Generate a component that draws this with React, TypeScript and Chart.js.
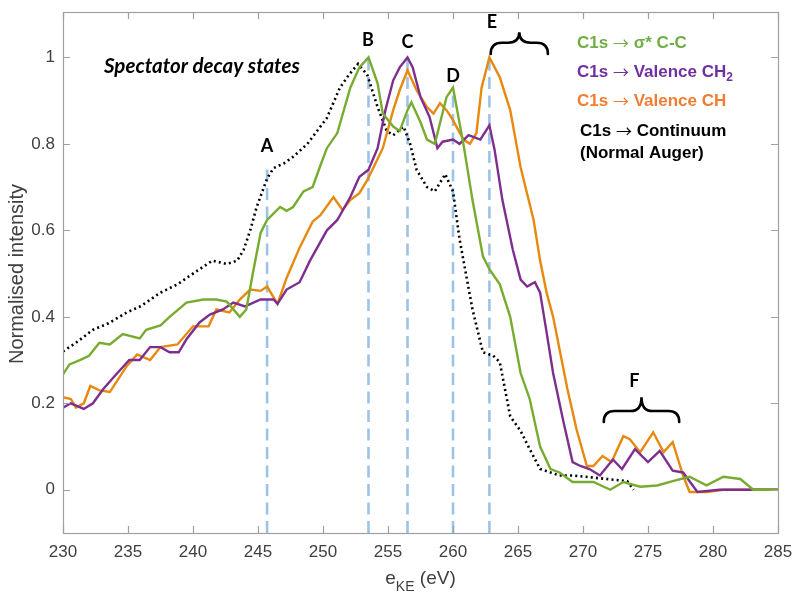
import React, { useEffect, useRef } from "react";
import { Chart, registerables } from "chart.js";

Chart.register(...registerables);

// ---------- data ----------
const continuumX = [230, 231, 232.3, 233.5, 234.9, 236, 237.5, 238.8, 240, 241.5, 242.6, 243.4, 243.9, 244.4, 244.9, 245.7, 246.2, 247, 247.7, 248.8, 249.8, 250.3, 251.3, 252, 252.7, 253.4, 254.2, 254.9, 255.4, 256.2, 256.7, 257.2, 258, 258.6, 259.4, 260, 260.5, 261.5, 262.3, 263.1, 263.6, 264.4, 265.2, 265.9, 266.7, 268.2, 269.2, 271.8, 273.4, 273.9];
const continuumY = [0.32, 0.34, 0.37, 0.385, 0.41, 0.425, 0.456, 0.475, 0.5, 0.53, 0.522, 0.53, 0.555, 0.6, 0.654, 0.72, 0.744, 0.755, 0.77, 0.8, 0.84, 0.86, 0.93, 0.96, 0.985, 0.96, 0.885, 0.83, 0.82, 0.84, 0.8, 0.74, 0.7, 0.69, 0.73, 0.69, 0.58, 0.417, 0.318, 0.31, 0.295, 0.17, 0.136, 0.094, 0.048, 0.033, 0.033, 0.025, 0.02, 0.0];

const sigmaX = [230, 230.5, 231.3, 232, 232.8, 233.6, 234.6, 235.9, 236.4, 237.5, 238.2, 239.5, 240.8, 241.8, 242.6, 243.6, 244.1, 244.6, 245.2, 245.7, 246.7, 247.2, 247.7, 248.5, 249.2, 249.8, 250.3, 251.1, 252.1, 252.8, 253.5, 254.2, 254.6, 255.4, 255.9, 256.5, 256.8, 257.5, 258, 258.6, 259.5, 260, 260.8, 261.5, 262.3, 262.8, 263.6, 264.4, 265.2, 265.9, 266.7, 267.5, 268.2, 269.2, 270.8, 272.1, 273.1, 274.4, 275.7, 276.9, 278.2, 279.5, 280.8, 282.1, 283.1, 285];
const sigmaY = [0.267, 0.29, 0.3, 0.31, 0.34, 0.336, 0.36, 0.35, 0.37, 0.38, 0.4, 0.433, 0.44, 0.44, 0.435, 0.4, 0.417, 0.5, 0.594, 0.624, 0.654, 0.645, 0.654, 0.69, 0.7, 0.75, 0.79, 0.825, 0.93, 0.977, 1.0, 0.94, 0.87, 0.84, 0.83, 0.878, 0.896, 0.85, 0.81, 0.8, 0.908, 0.93, 0.8, 0.67, 0.54, 0.51, 0.475, 0.4, 0.27, 0.21, 0.1, 0.048, 0.04, 0.018, 0.018, 0.0, 0.018, 0.007, 0.01, 0.02, 0.03, 0.01, 0.03, 0.025, 0.0, 0.0];

const ch2X = [230, 230.6, 231.6, 232.3, 233.1, 234.1, 235.1, 235.9, 236.7, 237.5, 238.2, 238.9, 239.5, 240.5, 241.3, 242.3, 243.1, 244, 245.2, 246.2, 246.5, 247.2, 248.2, 249, 250.3, 251.1, 252.1, 252.8, 253.5, 254.2, 254.8, 255.4, 255.9, 256.5, 256.9, 257.5, 258.2, 258.8, 259.2, 260, 260.5, 261.2, 262.1, 262.8, 263.2, 263.8, 264.6, 265.2, 265.7, 266.3, 266.7, 267.2, 267.7, 268.5, 269.2, 269.8, 270.5, 271.3, 272.3, 273, 274, 275, 275.9, 276.9, 277.7, 278.8, 280.5, 285];
const ch2Y = [0.19, 0.2, 0.187, 0.2, 0.233, 0.267, 0.3, 0.3, 0.33, 0.33, 0.318, 0.318, 0.348, 0.387, 0.405, 0.417, 0.433, 0.424, 0.44, 0.44, 0.43, 0.463, 0.48, 0.53, 0.6, 0.624, 0.677, 0.724, 0.74, 0.79, 0.878, 0.947, 0.977, 1.0, 0.977, 0.908, 0.862, 0.79, 0.805, 0.81, 0.8, 0.82, 0.81, 0.843, 0.786, 0.67, 0.555, 0.486, 0.47, 0.48, 0.456, 0.364, 0.27, 0.157, 0.064, 0.055, 0.048, 0.033, 0.07, 0.048, 0.094, 0.064, 0.09, 0.044, 0.04, -0.005, 0.0, 0.0];

const chX = [230, 230.6, 231, 231.6, 232.1, 232.8, 233.6, 234.9, 235.7, 236.7, 237.5, 238.8, 240, 241.2, 241.8, 242.8, 243.6, 244.4, 245.2, 245.7, 246.5, 247.2, 248.2, 249.2, 249.8, 250.8, 251.5, 252.1, 252.8, 253.4, 253.8, 254.6, 255.4, 255.9, 256.5, 257.2, 258, 258.5, 259, 259.5, 260, 260.8, 261.3, 261.8, 262.2, 262.8, 263.6, 264.4, 265.2, 266.2, 266.7, 267.2, 267.7, 268.8, 269.5, 270.3, 270.8, 271.5, 272.2, 273.1, 273.6, 274.4, 275.4, 276.2, 276.9, 277.7, 278.2, 279.5, 280.8, 285];
const chY = [0.214, 0.21, 0.19, 0.2, 0.24, 0.23, 0.226, 0.286, 0.313, 0.3, 0.33, 0.336, 0.378, 0.378, 0.417, 0.41, 0.44, 0.463, 0.46, 0.47, 0.43, 0.49, 0.56, 0.62, 0.635, 0.677, 0.647, 0.67, 0.686, 0.716, 0.74, 0.79, 0.878, 0.924, 0.97, 0.924, 0.885, 0.87, 0.894, 0.878, 0.855, 0.81, 0.8, 0.825, 0.93, 1.0, 0.954, 0.878, 0.746, 0.624, 0.53, 0.456, 0.4, 0.233, 0.14, 0.055, 0.055, 0.078, 0.064, 0.124, 0.117, 0.087, 0.133, 0.087, 0.11, 0.033, -0.005, -0.005, 0.0, 0.0];

const markerLabels = ["A", "B", "C", "D", "E"];
const markerX = [245.7, 253.5, 256.5, 260.0, 262.8];
const markerTop = [0.745, 1.0, 1.0, 0.93, 1.0];

const xTicks = [230, 235, 240, 245, 250, 255, 260, 265, 270, 275, 280, 285];
const yTicks = [0, 0.2, 0.4, 0.6, 0.8, 1];
const yTickLabels = ["0", "0.2", "0.4", "0.6", "0.8", "1"];

const legendHeads = ["C1s", "C1s", "C1s", "C1s"];
const legendTails = ["\u03c3* C-C", "Valence CH", "Valence CH", "Continuum"];
const legendExtra = "(Normal Auger)";

const X_MIN = 230, X_MAX = 285, Y_MIN = -0.1, Y_MAX = 1.105;

const zip = (xs: number[], ys: number[]) => xs.map((x, i) => ({ x, y: ys[i] }));

const BOLD = "bold 17px 'Liberation Sans', Arial, sans-serif";

const decorPlugin = {
  id: "decor",
  afterDatasetsDraw(chart: any) {
    const { ctx, chartArea: a, scales } = chart;
    const xs = scales.x, ys = scales.y;
    ctx.save();
    // box
    ctx.strokeStyle = "#a0a0a0";
    ctx.lineWidth = 1.2;
    ctx.strokeRect(Math.round(a.left) + 0.5, Math.round(a.top) + 0.5, Math.round(a.right - a.left), Math.round(a.bottom - a.top));
    // ticks
    ctx.beginPath();
    xTicks.forEach((t) => {
      const px = Math.round(xs.getPixelForValue(t)) + 0.5;
      ctx.moveTo(px, a.bottom); ctx.lineTo(px, a.bottom - 7);
      ctx.moveTo(px, a.top); ctx.lineTo(px, a.top + 7);
    });
    yTicks.forEach((t) => {
      const py = Math.round(ys.getPixelForValue(t)) + 0.5;
      ctx.moveTo(a.left, py); ctx.lineTo(a.left + 7, py);
      ctx.moveTo(a.right, py); ctx.lineTo(a.right - 7, py);
    });
    ctx.stroke();
    // tick labels
    ctx.fillStyle = "#404040";
    ctx.font = "17px 'Liberation Sans', Arial, sans-serif";
    ctx.textAlign = "center";
    ctx.textBaseline = "middle";
    xTicks.forEach((t) => ctx.fillText(String(t), xs.getPixelForValue(t), a.bottom + 19));
    ctx.textAlign = "right";
    yTicks.forEach((t, i) => ctx.fillText(yTickLabels[i], a.left - 8, ys.getPixelForValue(t)));
    // y title
    ctx.save();
    ctx.translate(17, 274);
    ctx.rotate(-Math.PI / 2);
    ctx.textAlign = "center";
    ctx.font = "20px 'Liberation Sans', Arial, sans-serif";
    ctx.fillText("Normalised intensity", 0, 0);
    ctx.restore();
    // x title with subscript
    ctx.textAlign = "left";
    ctx.textBaseline = "alphabetic";
    const part1 = "e";
    const part3 = " (eV)";
    ctx.font = "14px 'Liberation Sans', Arial, sans-serif";
    const wSub = ctx.measureText("KE").width;
    ctx.font = "19px 'Liberation Sans', Arial, sans-serif";
    const w1 = ctx.measureText(part1).width;
    const w3 = ctx.measureText(part3).width;
    let sx = (a.left + a.right) / 2 - (w1 + wSub + w3) / 2;
    const baseY = 584;
    ctx.fillText(part1, sx, baseY);
    sx += w1;
    ctx.font = "14px 'Liberation Sans', Arial, sans-serif";
    ctx.fillText("KE", sx, baseY + 7);
    sx += wSub;
    ctx.font = "19px 'Liberation Sans', Arial, sans-serif";
    ctx.fillText(part3, sx, baseY);

    // peak letters
    ctx.fillStyle = "#000";
    ctx.font = "bold 18px Lato, 'Liberation Sans', sans-serif";
    ctx.textAlign = "center";
    ctx.textBaseline = "middle";
    const letterPos = [
      [245.7, 0.80], [253.45, 1.045], [256.5, 1.04], [260.0, 0.961], [263.0, 1.085],
    ];
    markerLabels.forEach((l, i) => {
      const p = letterPos[i];
      ctx.fillText(l, xs.getPixelForValue(p[0]), ys.getPixelForValue(p[1]) + 2);
    });
    ctx.fillText("F", xs.getPixelForValue(273.95), ys.getPixelForValue(0.252));

    // braces
    const brace = (x1: number, x2: number, yEnd: number, yBar: number, yTip: number) => {
      const p1 = xs.getPixelForValue(x1), p2 = xs.getPixelForValue(x2);
      const pe = ys.getPixelForValue(yEnd), pb = ys.getPixelForValue(yBar), pt = ys.getPixelForValue(yTip);
      const pm = (p1 + p2) / 2;
      const r = pe - pb;
      ctx.beginPath();
      ctx.moveTo(p1, pe);
      ctx.quadraticCurveTo(p1, pb, p1 + r, pb);
      ctx.lineTo(pm - r, pb);
      ctx.quadraticCurveTo(pm, pb, pm, pt);
      ctx.quadraticCurveTo(pm, pb, pm + r, pb);
      ctx.lineTo(p2 - r, pb);
      ctx.quadraticCurveTo(p2, pb, p2, pe);
      ctx.stroke();
    };
    ctx.strokeStyle = "#000";
    ctx.lineWidth = 2.6;
    ctx.lineCap = "round";
    brace(262.9, 267.3, 1.008, 1.034, 1.058);
    brace(271.6, 277.4, 0.157, 0.182, 0.214);

    // annotation
    ctx.textAlign = "left";
    ctx.font = "italic bold 20.5px Lato, 'Open Sans', sans-serif";
    ctx.fillText("Spectator decay states", 104, 66);

    // legend
    const legendLine = (x: number, y: number, i: number, color: string, sub?: string) => {
      ctx.fillStyle = color;
      ctx.font = BOLD;
      ctx.fillText(legendHeads[i] + " ", x, y);
      let cx = x + ctx.measureText(legendHeads[i] + " ").width;
      ctx.font = "16px 'Noto Sans CJK SC', 'DejaVu Sans', sans-serif";
      ctx.fillText("\u2192", cx, y);
      cx += ctx.measureText("\u2192").width;
      ctx.font = BOLD;
      ctx.fillText(" " + legendTails[i], cx, y);
      cx += ctx.measureText(" " + legendTails[i]).width;
      if (sub) {
        ctx.font = "bold 12px 'Liberation Sans', Arial, sans-serif";
        ctx.fillText(sub, cx, y + 6);
      }
    };
    const lx = 577;
    legendLine(lx, 43, 0, "#70AD47");
    legendLine(lx, 72, 1, "#7030A0", "2");
    legendLine(lx, 101, 2, "#F07D32");
    legendLine(lx + 3, 131, 3, "#000");
    ctx.font = BOLD;
    ctx.fillStyle = "#000";
    ctx.fillText(legendExtra, lx + 3, 153);
    ctx.restore();
  },
};

export default function App() {
  const ref = useRef<HTMLCanvasElement | null>(null);
  useEffect(() => {
    if (!ref.current) return;
    const dashSets = markerX.map((x, i) => ({
      label: "marker " + markerLabels[i],
      data: [{ x, y: Y_MIN }, { x, y: markerTop[i] }],
      borderColor: "#9DC3E6",
      borderWidth: 2.6,
      borderDash: [12, 6.5],
      pointRadius: 0,
      order: 10,
    }));
    const chart = new Chart(ref.current, {
      type: "line",
      data: {
        datasets: [
          ...dashSets,
          { label: "C1s → Continuum (Normal Auger)", data: zip(continuumX, continuumY), borderColor: "#000", borderWidth: 2.6, borderDash: [2, 3.2], pointRadius: 0, order: 4 },
          { label: "C1s → σ* C-C", data: zip(sigmaX, sigmaY), borderColor: "#77AC30", borderWidth: 2.4, pointRadius: 0, order: 1 },
          { label: "C1s → Valence CH", data: zip(chX, chY), borderColor: "#E8890F", borderWidth: 2.4, pointRadius: 0, order: 3 },
          { label: "C1s → Valence CH2", data: zip(ch2X, ch2Y), borderColor: "#7E2F8E", borderWidth: 2.4, pointRadius: 0, order: 2 },
        ] as any,
      },
      options: {
        animation: false,
        responsive: false,
        maintainAspectRatio: false,
        layout: { padding: { left: 63, right: 18, top: 12, bottom: 59 } },
        plugins: { legend: { display: false }, tooltip: { enabled: false } },
        scales: {
          x: { type: "linear", min: X_MIN, max: X_MAX, display: false },
          y: { type: "linear", min: Y_MIN, max: Y_MAX, display: false },
        },
      },
      plugins: [decorPlugin],
    });
    return () => chart.destroy();
  }, []);
  return (
    <div style={{ position: "fixed", left: 0, top: 0, width: 796, height: 592, background: "#fff" }}>
      <canvas ref={ref} width={796} height={592} style={{ width: 796, height: 592 }} />
    </div>
  );
}
